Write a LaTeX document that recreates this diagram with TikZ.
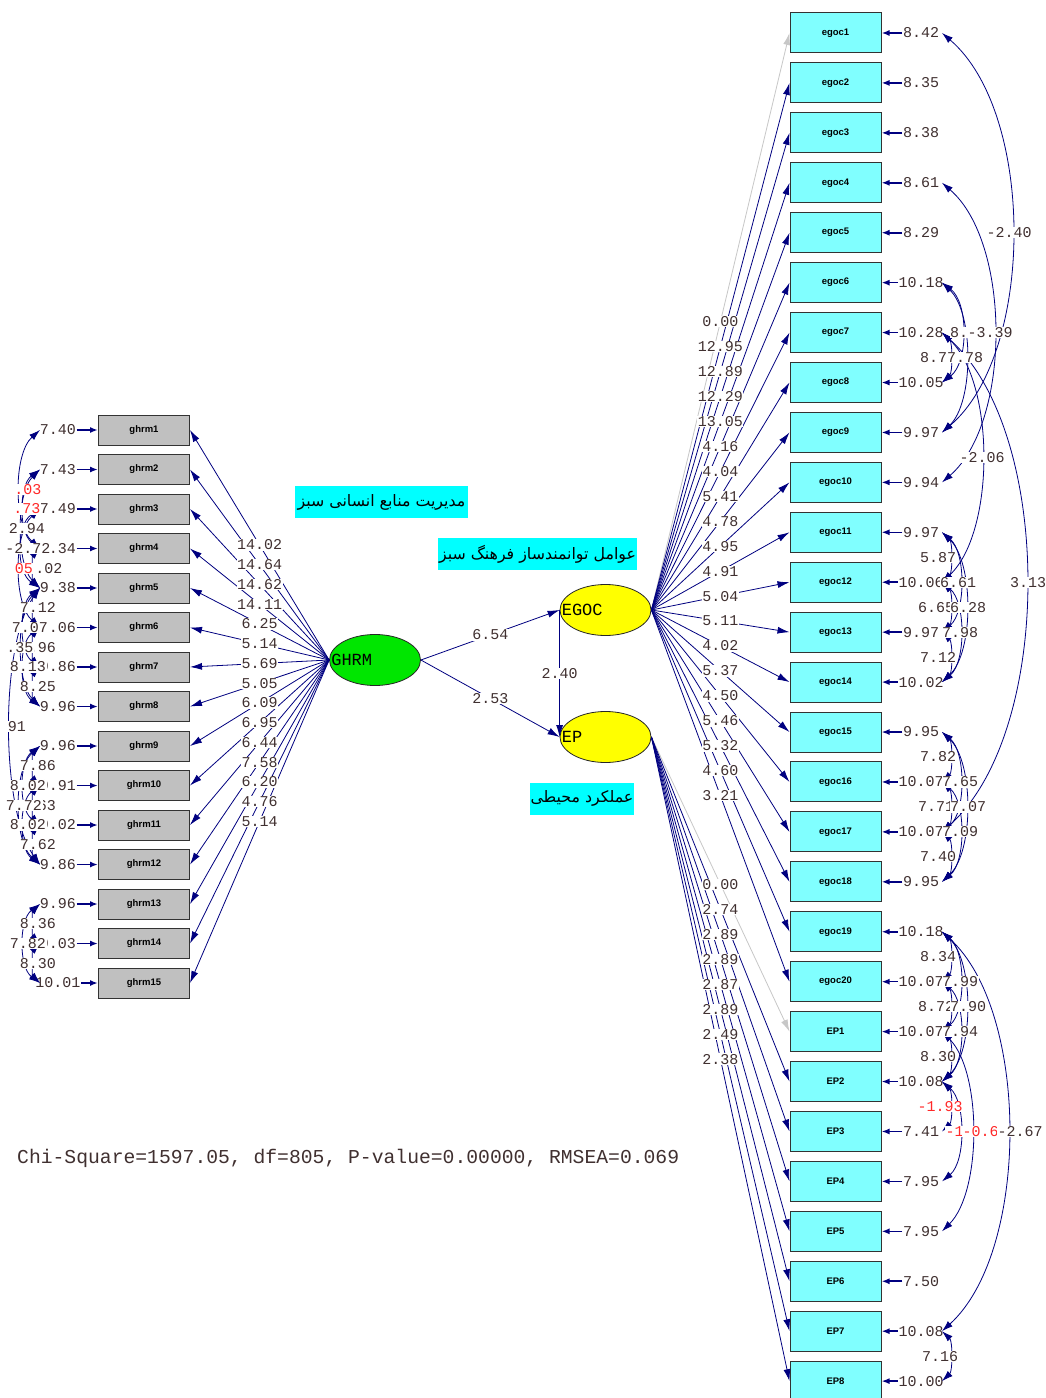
\documentclass[tikz,border=0pt]{standalone}
\usepackage{fontspec}
\usepackage{tikz}
\usetikzlibrary{arrows.meta, positioning, shapes.geometric, calc}
\TeXXeTstate=1
\newfontfamily\lismono{Liberation Mono}
\newfontfamily\lissans{Liberation Sans}
\newfontfamily\arabicfont[Script=Arabic]{DejaVu Sans}
\definecolor{lisnavy}{RGB}{0,0,128}
\definecolor{boxgray}{RGB}{192,192,192}
\definecolor{boxcyan}{RGB}{128,255,255}
\definecolor{tagcyan}{RGB}{0,255,255}
\definecolor{numgray}{RGB}{64,48,48}
\definecolor{numred}{RGB}{255,40,40}
\definecolor{ghrmgreen}{RGB}{0,230,0}
\definecolor{egocyellow}{RGB}{255,255,0}
\newcommand\numfont{\lismono\fontsize{15bp}{15bp}\selectfont}
\newcommand\boxfont{\lissans\bfseries\fontsize{9.5bp}{10bp}\selectfont}
\newcommand\latfont{\lismono\fontsize{17bp}{17bp}\selectfont}
% error covariances: i/j/arc x/label x/text/colour
\newcommand\lcovlist{1/4/20/28/.03/numred, 2/4/24/27/.73/numred, 2/5/22/27/2.94/numgray,
  3/5/22/28/-2.72/numgray, 4/5/34/49/.02/numgray, 3/6/20/24/05/numred,
  5/6/34/38/7.12/numgray, 5/7/24/30/7.07/numgray, 6/7/34/38/6.96/numgray,
  5/8/22/20/.35/numgray, 6/8/24/28/8.13/numgray, 7/8/34/38/8.25/numgray,
  5/12/10/17/91/numgray, 9/10/34/38/7.86/numgray, 9/11/24/28/8.02/numgray,
  10/11/34/38/7.63/numgray, 9/12/20/24/7.72/numgray, 10/12/24/28/8.02/numgray,
  11/12/34/38/7.62/numgray, 13/14/34/38/8.36/numgray, 13/15/24/28/7.82/numgray,
  14/15/34/38/8.30/numgray}
\newcommand\rcovlist{1/9/1012/1009/-2.40/numgray, 6/8/962/968/8.15/numgray,
  4/10/994/990/-3.39/numgray, 7/8/950/938/8.72/numgray, 6/9/966/965/7.78/numgray,
  7/12/982/982/-2.06/numgray, 7/17/1026/1028/3.13/numgray,
  11/12/950/938/5.87/numgray, 11/13/960/958/6.61/numgray, 12/13/950/936/6.65/numgray,
  11/14/966/968/6.28/numgray, 12/14/960/960/7.98/numgray, 13/14/950/938/7.12/numgray,
  15/16/950/938/7.82/numgray, 15/17/960/960/7.65/numgray, 16/17/950/936/7.71/numgray,
  15/18/966/968/7.07/numgray, 16/18/960/960/7.09/numgray, 17/18/950/938/7.40/numgray,
  19/20/950/938/8.34/numgray, 19/21/960/960/7.99/numgray, 20/21/950/936/8.72/numgray,
  19/22/966/968/7.90/numgray, 20/22/960/960/7.94/numgray, 21/22/950/938/8.30/numgray,
  22/23/950/940/-1.93/numred, 22/24/960/968/-1.45/numred, 21/25/972/985/-0.65/numred,
  19/27/1008/1020/-2.67/numgray, 27/28/950/940/7.16/numgray}

\begin{document}
\begin{tikzpicture}[
  x=1bp, y=-1bp,
  obs/.style={rectangle, draw=black!80, line width=1bp, fill=boxgray, minimum width=91bp, minimum height=30bp, inner sep=0pt, font=\boxfont},
  ind/.style={obs, fill=boxcyan, minimum height=40bp},
  latent/.style={ellipse, draw=black!85, line width=0.8bp, minimum width=91bp, minimum height=51bp, inner sep=0pt},
  load/.style={draw=lisnavy, line width=0.8bp, -{Latex[length=12bp,width=7bp]}},
  fixed/.style={load, draw=black!22},
  err/.style={draw=lisnavy, line width=1.6bp, -{Latex[length=8bp,width=6bp]}},
  cov/.style={draw=lisnavy, line width=0.8bp, {Latex[length=11bp,width=7bp]}-{Latex[length=11bp,width=7bp]}},
  val/.style={font=\numfont, text=numgray, fill=white, inner sep=0.5bp},
  tag/.style={fill=tagcyan, inner sep=0pt, minimum height=32bp, font=\arabicfont\fontsize{15.8bp}{18bp}\selectfont},
]
  \useasboundingbox (0,0) rectangle (1045,1398);
  \clip (0,0) rectangle (1045,1398);
  \fill[white] (0,0) rectangle (1045,1398);

  % latent variables
  \node[latent, fill=ghrmgreen] (GHRM) at (375,660) {};
  \node[latent, fill=egocyellow] (EGOC) at (605.5,610) {};
  \node[latent, fill=egocyellow] (EP) at (605.5,737) {};
  \node[font=\latfont, anchor=west, inner sep=0pt] (lGHRM) at ([xshift=2bp]GHRM.west) {GHRM};
  \node[font=\latfont, anchor=west, inner sep=0pt] (lEGOC) at ([xshift=2bp]EGOC.west) {EGOC};
  \node[font=\latfont, anchor=west, inner sep=0pt] (lEP) at ([xshift=2bp]EP.west) {EP};

  % indicators and error terms
  \foreach \k/\v in {1/7.40, 2/7.43, 3/7.49, 4/7.34, 5/9.38, 6/9.06, 7/9.86, 8/9.96, 9/9.96,
      10/9.91, 11/9.02, 12/9.86, 13/9.96, 14/9.03, 15/10.01}{
    \node[obs] (ghrm\k) at (144,{430+39.5*(\k-1)}) {ghrm\k};
    \node[val] (eg\k) at (58,{430+39.5*(\k-1)}) {\v};
    \draw[err] (eg\k) -- (ghrm\k);
    \coordinate (lc\k) at (40,{430+39.5*(\k-1)});
  }
  \foreach \k/\v in {1/8.42, 2/8.35, 3/8.38, 4/8.61, 5/8.29, 6/10.18, 7/10.28, 8/10.05, 9/9.97,
      10/9.94, 11/9.97, 12/10.06, 13/9.97, 14/10.02, 15/9.95, 16/10.07, 17/10.07, 18/9.95,
      19/10.18, 20/10.07}{
    \node[ind] (egoc\k) at (835.5,{33+49.93*(\k-1)}) {egoc\k};
    \node[val] (ee\k) at (921,{33+49.93*(\k-1)}) {\v};
    \draw[err] (ee\k) -- (egoc\k);
    \coordinate (rc\k) at (942,{33+49.93*(\k-1)});
  }
  \foreach \k/\v in {1/10.07, 2/10.08, 3/7.41, 4/7.95, 5/7.95, 6/7.50, 7/10.08, 8/10.00}{
    \pgfmathtruncatemacro\n{\k+20}
    \node[ind] (ep\k) at (835.5,{33+49.93*(\n-1)}) {EP\k};
    \node[val] (ee\n) at (921,{33+49.93*(\n-1)}) {\v};
    \draw[err] (ee\n) -- (ep\k);
    \coordinate (rc\n) at (942,{33+49.93*(\n-1)});
  }

  % loadings
  \foreach \k in {1,...,15} \draw[load] (GHRM.west) -- (ghrm\k.east);
  \draw[fixed] (EGOC.east) -- (egoc1.west);
  \foreach \k in {2,...,20} \draw[load] (EGOC.east) -- (egoc\k.west);
  \draw[fixed] (EP.east) -- (ep1.west);
  \foreach \k in {2,...,8} \draw[load] (EP.east) -- (ep\k.west);
  \foreach \k/\t in {1/14.02, 2/14.64, 3/14.62, 4/14.11, 5/6.25, 6/5.14, 7/5.69, 8/5.05,
      9/6.09, 10/6.95, 11/6.44, 12/7.58, 13/6.20, 14/4.76, 15/5.14}
    \path (GHRM.west) -- node[val] {\t} (ghrm\k.east);
  \foreach \k/\t in {1/0.00, 2/12.95, 3/12.89, 4/12.29, 5/13.05, 6/4.16, 7/4.04, 8/5.41,
      9/4.78, 10/4.95, 11/4.91, 12/5.04, 13/5.11, 14/4.02, 15/5.37, 16/4.50, 17/5.46,
      18/5.32, 19/4.60, 20/3.21}
    \path (EGOC.east) -- node[val] {\t} (egoc\k.west);
  \foreach \k/\t in {1/0.00, 2/2.74, 3/2.89, 4/2.89, 5/2.87, 6/2.89, 7/2.49, 8/2.38}
    \path (EP.east) -- node[val] {\t} (ep\k.west);

  % structural paths
  \draw[load] (GHRM.east) -- node[val] {6.54} (EGOC.west);
  \draw[load] (GHRM.east) -- node[val] {2.53} (EP.west);
  \draw[load] (EGOC.west) -- node[val] {2.40} (EP.west);

  % error covariances
  \foreach \i/\j/\ax/\bx/\txt/\col in \lcovlist{
    \pgfmathsetmacro\ctlx{4/3*(\ax-40)}
    \pgfmathsetmacro\ctly{0.2*39.5*(\j-\i)}
    \draw[cov] (lc\i) .. controls ($(lc\i)+(\ctlx,\ctly)$) and ($(lc\j)+(\ctlx,-\ctly)$) .. (lc\j);
  }
  \foreach \i/\j/\ax/\bx/\txt/\col in \rcovlist{
    \pgfmathsetmacro\ctlx{4/3*(\ax-942)}
    \pgfmathsetmacro\ctly{0.2*49.93*(\j-\i)}
    \draw[cov] (rc\i) .. controls ($(rc\i)+(\ctlx,\ctly)$) and ($(rc\j)+(\ctlx,-\ctly)$) .. (rc\j);
  }
  \foreach \i/\j/\ax/\bx/\txt/\col in \lcovlist{
    \pgfmathsetmacro\ymid{430+39.5*((\i+\j)/2-1)}
    \node[val, text=\col] (lv\i-\j) at (\bx,\ymid) {\txt};
  }
  \foreach \i/\j/\ax/\bx/\txt/\col in \rcovlist{
    \pgfmathsetmacro\ymid{33+49.93*((\i+\j)/2-1)}
    \node[val, text=\col] (rv\i-\j) at (\bx,\ymid) {\txt};
  }

  % construct names
  \node[tag, minimum width=173bp] (tGHRM) at (381.5,502) {\beginR مدیریت منابع انسانی سبز\endR};
  \node[tag, minimum width=199bp] (tEGOC) at (537.5,554) {\beginR عوامل توانمندساز فرهنگ سبز\endR};
  \node[tag, minimum width=104bp] (tEP) at (582,798.5) {\beginR عملکرد محیطی\endR};

  \node[anchor=west, inner sep=0pt, text=numgray, font=\lismono\fontsize{19.7bp}{20bp}\selectfont] (fit) at (17,1158)
    {Chi-Square=1597.05, df=805, P-value=0.00000, RMSEA=0.069};
\end{tikzpicture}
\end{document}
